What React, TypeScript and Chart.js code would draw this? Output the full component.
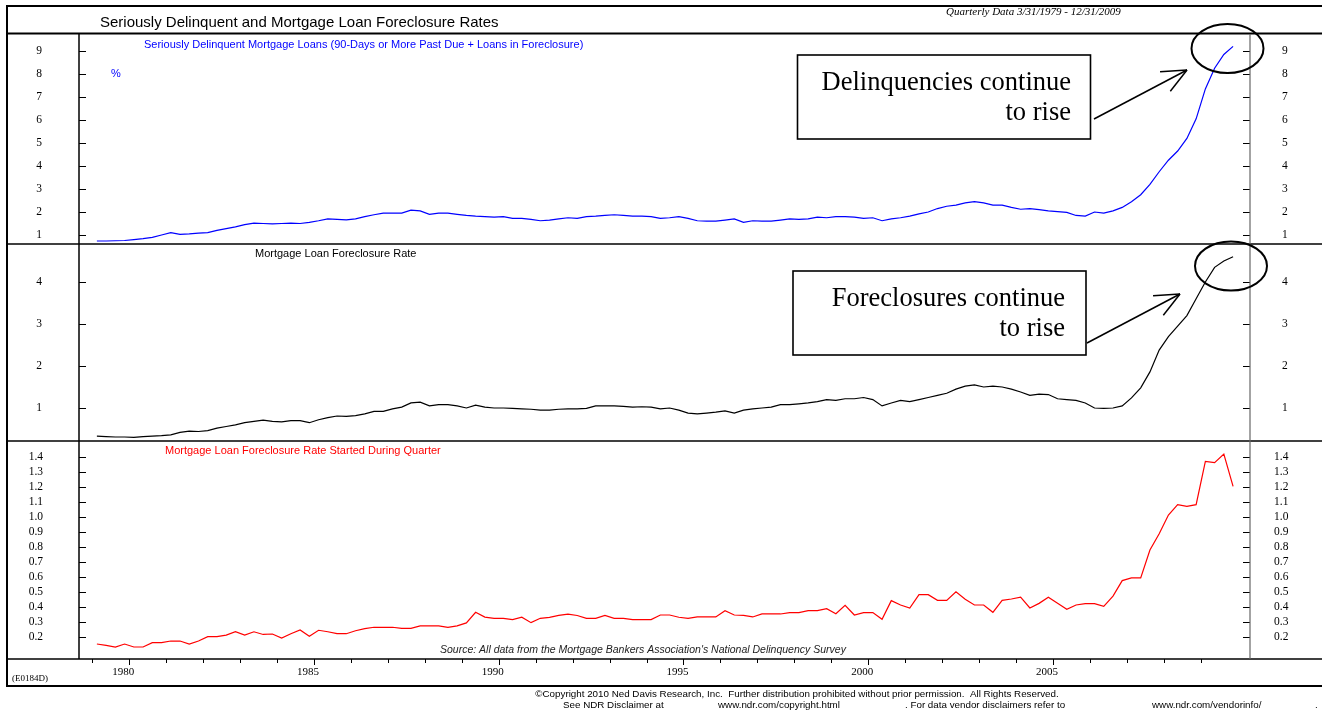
import React, { useEffect, useRef } from "react";
import { Chart, registerables } from "chart.js";

Chart.register(...registerables);

// ---------------- DATA ----------------
// Quarterly data, first quarter 3/31/1979, last 12/31/2009 (124 quarters)
const START_YEAR = 1979;

const delinquencyRate = [
  0.74, 0.74, 0.75, 0.76,
  0.8, 0.84, 0.9, 1.0,
  1.1, 1.03, 1.05, 1.08,
  1.1, 1.2, 1.28, 1.35,
  1.45, 1.52, 1.5, 1.48,
  1.5, 1.52, 1.5, 1.55,
  1.62, 1.7, 1.68, 1.66,
  1.7, 1.8, 1.88, 1.95,
  1.95, 1.95, 2.08, 2.05,
  1.9, 1.95, 1.95, 1.9,
  1.85, 1.82, 1.8, 1.78,
  1.8, 1.72, 1.72, 1.68,
  1.62, 1.65, 1.7, 1.75,
  1.72, 1.8, 1.82, 1.85,
  1.88, 1.85, 1.82, 1.82,
  1.8, 1.72, 1.75, 1.8,
  1.72, 1.62, 1.6, 1.6,
  1.65, 1.7, 1.55, 1.62,
  1.6, 1.6, 1.65, 1.7,
  1.68, 1.7, 1.78, 1.75,
  1.8, 1.8, 1.78, 1.72,
  1.75, 1.62, 1.7, 1.75,
  1.82, 1.92, 2.0, 2.15,
  2.25, 2.3, 2.4, 2.45,
  2.4, 2.3, 2.3, 2.2,
  2.12, 2.15, 2.1, 2.05,
  2.02, 1.98, 1.85, 1.82,
  2.0, 1.95, 2.05, 2.2,
  2.45, 2.75, 3.2, 3.75,
  4.25, 4.65, 5.2, 6.05,
  7.35, 8.25, 8.85, 9.2,
];

const foreclosureRate = [
  0.33, 0.32, 0.31, 0.31,
  0.3, 0.32, 0.33, 0.34,
  0.36, 0.42, 0.45, 0.44,
  0.46, 0.52, 0.56, 0.6,
  0.65, 0.68, 0.71, 0.68,
  0.67, 0.7, 0.7, 0.65,
  0.72, 0.77, 0.81, 0.8,
  0.82, 0.86, 0.92, 0.92,
  0.98, 1.02, 1.12, 1.14,
  1.05, 1.08, 1.08, 1.05,
  1.0, 1.07, 1.02, 1.0,
  1.0, 0.99, 0.98, 0.97,
  0.95, 0.95, 0.97, 0.98,
  0.98, 0.99, 1.05, 1.05,
  1.05, 1.04, 1.02, 1.03,
  1.02, 0.98, 1.0, 0.95,
  0.88, 0.86, 0.88, 0.9,
  0.93, 0.88, 0.95, 0.98,
  1.0, 1.02, 1.08, 1.08,
  1.1, 1.12, 1.15, 1.2,
  1.18, 1.22, 1.22, 1.25,
  1.2, 1.05, 1.12, 1.18,
  1.15, 1.2, 1.25, 1.3,
  1.35, 1.45, 1.52, 1.55,
  1.5, 1.52, 1.5, 1.45,
  1.38, 1.3, 1.33, 1.32,
  1.22, 1.2, 1.18, 1.12,
  1.0, 0.99, 1.0, 1.05,
  1.24, 1.48, 1.86, 2.38,
  2.7, 2.95, 3.2, 3.6,
  4.0, 4.35, 4.5, 4.6,
];

const foreclosureStarts = [
  0.151, 0.142, 0.131, 0.151,
  0.131, 0.131, 0.16, 0.16,
  0.171, 0.171, 0.151, 0.171,
  0.2, 0.2, 0.211, 0.233,
  0.211, 0.233, 0.215, 0.218,
  0.191, 0.22, 0.245, 0.203,
  0.243, 0.233, 0.22, 0.22,
  0.24, 0.254, 0.263, 0.263,
  0.263, 0.256, 0.256, 0.272,
  0.272, 0.272, 0.263, 0.272,
  0.292, 0.363, 0.331, 0.323,
  0.323, 0.314, 0.331, 0.294,
  0.323, 0.329, 0.342, 0.351,
  0.342, 0.323, 0.323, 0.342,
  0.323, 0.323, 0.314, 0.314,
  0.314, 0.345, 0.345, 0.33,
  0.323, 0.332, 0.332, 0.332,
  0.374, 0.345, 0.343, 0.332,
  0.352, 0.352, 0.352, 0.361,
  0.361, 0.374, 0.374, 0.387,
  0.354, 0.41, 0.345, 0.361,
  0.361, 0.316, 0.441, 0.412,
  0.392, 0.481, 0.481, 0.443,
  0.443, 0.501, 0.451, 0.412,
  0.412, 0.363, 0.443, 0.452,
  0.464, 0.392, 0.423, 0.464,
  0.423, 0.383, 0.412, 0.421,
  0.421, 0.403, 0.472, 0.575,
  0.593, 0.593, 0.78, 0.889,
  1.014, 1.083, 1.072, 1.083,
  1.373, 1.364, 1.422, 1.206,
];

const delinquencyTicks = [1, 2, 3, 4, 5, 6, 7, 8, 9];
const foreclosureTicks = [1, 2, 3, 4];
const startsTicks = [0.2, 0.3, 0.4, 0.5, 0.6, 0.7, 0.8, 0.9, 1.0, 1.1, 1.2, 1.3, 1.4];
const yearTicks = [
  1979, 1980, 1981, 1982, 1983, 1984, 1985, 1986, 1987, 1988, 1989, 1990, 1991, 1992, 1993, 1994,
  1995, 1996, 1997, 1998, 1999, 2000, 2001, 2002, 2003, 2004, 2005, 2006, 2007, 2008, 2009,
];
const labelledYears = [1980, 1985, 1990, 1995, 2000, 2005];

// ---------------- LAYOUT ----------------
const W = 1322;
const H = 712;
const LEFT = 79;
const RIGHT = 1250;
const X_MIN = 1978.641;
const X_MAX = 2010.333;
const SANS = "'Liberation Sans', Arial, sans-serif";
const SERIF = "'Liberation Serif', 'Times New Roman', serif";

type Panel = {
  top: number;
  bottom: number;
  min: number;
  max: number;
  values: number[];
  color: string;
  ticks: number[];
  decimals: number;
  padL: number;
  padR: number;
  showX: boolean;
};

const panels: Panel[] = [
  { top: 34, bottom: 244, min: 0.6087, max: 9.739, values: delinquencyRate, color: "#0000ff", ticks: delinquencyTicks, decimals: 0, padL: 37, padR: 32, showX: false },
  { top: 244, bottom: 441, min: 0.2143, max: 4.905, values: foreclosureRate, color: "#000000", ticks: foreclosureTicks, decimals: 0, padL: 37, padR: 32, showX: false },
  { top: 441, bottom: 659, min: 0.0508, max: 1.509, values: foreclosureStarts, color: "#ff0000", ticks: startsTicks, decimals: 1, padL: 36, padR: 24, showX: true },
];

function line(ctx: CanvasRenderingContext2D, x1: number, y1: number, x2: number, y2: number) {
  ctx.beginPath();
  ctx.moveTo(x1, y1);
  ctx.lineTo(x2, y2);
  ctx.stroke();
}

const innerTicks = {
  id: "innerTicks",
  afterDraw(chart: any) {
    const ctx: CanvasRenderingContext2D = chart.ctx;
    const { left, right, bottom } = chart.chartArea;
    ctx.save();
    ctx.strokeStyle = "#000";
    ctx.lineWidth = 1;
    const yl = chart.scales.yl;
    const yr = chart.scales.yr;
    yl.ticks.forEach((t: any) => {
      const y = Math.round(yl.getPixelForValue(t.value)) + 0.5;
      line(ctx, left, y, left + 7, y);
    });
    yr.ticks.forEach((t: any) => {
      const y = Math.round(yr.getPixelForValue(t.value)) + 0.5;
      line(ctx, right - 7, y, right, y);
    });
    const xs = chart.scales.x;
    if (xs.options.display) {
      xs.ticks.forEach((t: any) => {
        const px = Math.round(xs.getPixelForValue(t.value)) + 0.5;
        const len = t.value % 5 === 0 ? 6 : 4;
        line(ctx, px, bottom, px, bottom + len);
      });
    }
    ctx.restore();
  },
};

function text(ctx: CanvasRenderingContext2D, s: string, x: number, y: number, font: string, color = "#000", align: CanvasTextAlign = "left") {
  ctx.font = font;
  ctx.fillStyle = color;
  ctx.textAlign = align;
  ctx.textBaseline = "middle";
  ctx.fillText(s, x, y);
}

function arrow(ctx: CanvasRenderingContext2D, x1: number, y1: number, x2: number, y2: number) {
  ctx.lineWidth = 1.5;
  line(ctx, x1, y1, x2, y2);
  const a = Math.atan2(y2 - y1, x2 - x1);
  const len = 27;
  const spread = 0.42;
  line(ctx, x2, y2, x2 - len * Math.cos(a - spread), y2 - len * Math.sin(a - spread));
  line(ctx, x2, y2, x2 - len * Math.cos(a + spread), y2 - len * Math.sin(a + spread));
}

function box(ctx: CanvasRenderingContext2D, x: number, y: number, w: number, h: number, l1: string, l2: string, rx: number) {
  ctx.fillStyle = "#fff";
  ctx.fillRect(x, y, w, h);
  ctx.strokeStyle = "#000";
  ctx.lineWidth = 1.6;
  ctx.strokeRect(x, y, w, h);
  const f = `26.5px ${SERIF}`;
  text(ctx, l1, rx, y + 28, f, "#000", "right");
  text(ctx, l2, rx, y + 58, f, "#000", "right");
}

const frame = {
  id: "frame",
  afterDraw(chart: any) {
    const ctx: CanvasRenderingContext2D = chart.ctx;
    ctx.save();
    ctx.strokeStyle = "#000";
    // outer frame
    ctx.lineWidth = 2;
    ctx.beginPath();
    ctx.moveTo(W, 6);
    ctx.lineTo(7, 6);
    ctx.lineTo(7, 686);
    ctx.lineTo(W, 686);
    ctx.stroke();
    line(ctx, 7, 33.5, W, 33.5);
    ctx.lineWidth = 1.5;
    line(ctx, 7, 244, W, 244);
    line(ctx, 7, 441, W, 441);
    line(ctx, 7, 659, W, 659);
    line(ctx, LEFT, 33, LEFT, 659);
    ctx.strokeStyle = "#666";
    ctx.lineWidth = 1.2;
    line(ctx, RIGHT, 34, RIGHT, 659);
    ctx.strokeStyle = "#000";

    // texts
    text(ctx, "Seriously Delinquent and Mortgage Loan Foreclosure Rates", 100, 23, `15px ${SANS}`);
    text(ctx, "Quarterly Data 3/31/1979 - 12/31/2009", 946, 12, `italic 11px ${SERIF}`);
    text(ctx, "Seriously Delinquent Mortgage Loans (90-Days or More Past Due + Loans in Foreclosure)", 144, 45, `11px ${SANS}`, "#0000ff");
    text(ctx, "%", 111, 74, `11px ${SANS}`, "#0000ff");
    text(ctx, "Mortgage Loan Foreclosure Rate", 255, 254, `11px ${SANS}`, "#000");
    text(ctx, "Mortgage Loan Foreclosure Rate Started During Quarter", 165, 451, `11px ${SANS}`, "#ff0000");
    text(ctx, "Source: All data from the Mortgage Bankers Association's National Delinquency Survey", 440, 650, `italic 10.5px ${SANS}`, "#222");
    text(ctx, "(E0184D)", 12, 679, `9px ${SERIF}`);
    text(ctx, "\u00A9Copyright 2010 Ned Davis Research, Inc.  Further distribution prohibited without prior permission.  All Rights Reserved.", 797, 694, `9.8px ${SANS}`, "#000", "center");
    const f2 = `9.8px ${SANS}`;
    text(ctx, "See NDR Disclaimer at", 563, 705, f2);
    text(ctx, "www.ndr.com/copyright.html", 718, 705, f2);
    text(ctx, ". For data vendor disclaimers refer to", 905, 705, f2);
    text(ctx, "www.ndr.com/vendorinfo/", 1152, 705, f2);
    text(ctx, ".", 1315, 705, f2);

    // annotations
    box(ctx, 797.5, 55, 293, 84, "Delinquencies continue", "to rise", 1071);
    box(ctx, 793, 271, 293, 84, "Foreclosures continue", "to rise", 1065);
    ctx.strokeStyle = "#000";
    arrow(ctx, 1094, 119, 1187, 70);
    arrow(ctx, 1087, 343, 1180, 294);
    ctx.lineWidth = 2;
    ctx.beginPath();
    ctx.ellipse(1227.5, 48.5, 36, 24.5, 0, 0, Math.PI * 2);
    ctx.stroke();
    ctx.beginPath();
    ctx.ellipse(1231, 266, 36, 24.5, 0, 0, Math.PI * 2);
    ctx.stroke();
    ctx.restore();
  },
};

function makeConfig(p: Panel, isLast: boolean): any {
  const points = p.values.map((v, i) => ({ x: START_YEAR + (i + 0.5) / 4, y: v }));
  const tickFont = { family: SERIF, size: 11.5 };
  const yAxis = (position: "left" | "right", pad: number, width: number) => ({
    type: "linear",
    position,
    min: p.min,
    max: p.max,
    afterBuildTicks: (s: any) => {
      s.ticks = p.ticks.map((v) => ({ value: v }));
    },
    afterFit: (s: any) => {
      s.width = width;
      s.paddingTop = 0;
      s.paddingBottom = 0;
    },
    grid: { display: false, drawTicks: false },
    border: { display: false },
    ticks: {
      font: tickFont,
      color: "#000",
      padding: pad,
      crossAlign: "near",
      autoSkip: false,
      callback: (v: number) => v.toFixed(p.decimals),
    },
  });
  return {
    type: "line",
    data: {
      datasets: [
        {
          data: points,
          borderColor: p.color,
          borderWidth: 1.2,
          pointRadius: 0,
          tension: 0,
          fill: false,
          yAxisID: "yl",
        },
      ],
    },
    options: {
      animation: false,
      responsive: false,
      maintainAspectRatio: false,
      events: [],
      layout: { padding: { top: p.top, bottom: p.showX ? 0 : H - p.bottom, left: 0, right: 0 } },
      plugins: { legend: { display: false }, tooltip: { enabled: false }, title: { display: false } },
      scales: {
        x: {
          type: "linear",
          min: X_MIN,
          max: X_MAX,
          display: p.showX,
          afterBuildTicks: (s: any) => {
            s.ticks = yearTicks.map((v) => ({ value: v }));
          },
          afterFit: (s: any) => {
            s.height = p.showX ? H - p.bottom : 0;
            s.paddingLeft = 0;
            s.paddingRight = 0;
          },
          grid: { display: false, drawTicks: false },
          border: { display: false },
          ticks: {
            font: { family: SERIF, size: 11 },
            color: "#000",
            padding: 7,
            autoSkip: false,
            maxRotation: 0,
            labelOffset: -6,
            callback: (v: number) => (labelledYears.includes(v) ? String(v) : ""),
          },
        },
        yl: yAxis("left", p.padL, LEFT),
        yr: yAxis("right", p.padR, W - RIGHT),
      },
    },
    plugins: isLast ? [innerTicks, frame] : [innerTicks],
  };
}

export default function App() {
  const refs = [useRef<HTMLCanvasElement>(null), useRef<HTMLCanvasElement>(null), useRef<HTMLCanvasElement>(null)];
  useEffect(() => {
    const charts = panels.map((p, i) => new Chart(refs[i].current as HTMLCanvasElement, makeConfig(p, i === panels.length - 1)));
    return () => charts.forEach((c) => c.destroy());
  }, []);
  return (
    <div style={{ position: "absolute", left: 0, top: 0, width: W, height: H, background: "#fff" }}>
      {panels.map((_, i) => (
        <canvas
          key={i}
          ref={refs[i]}
          width={W}
          height={H}
          style={{ position: "absolute", left: 0, top: 0, width: W, height: H }}
        />
      ))}
    </div>
  );
}
